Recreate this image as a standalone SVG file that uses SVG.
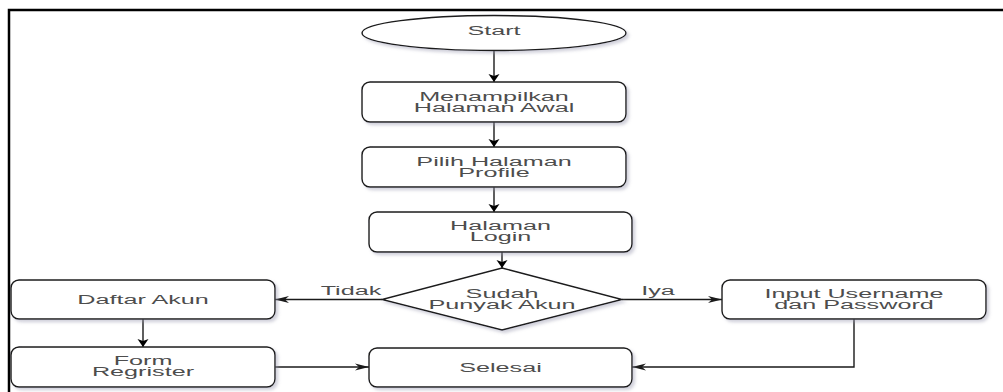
<svg xmlns="http://www.w3.org/2000/svg" width="1003" height="392" viewBox="0 0 1003 392">
  <style>
    .shape { fill: #ffffff; stroke: #1a1a1a; stroke-width: 1.4; filter: url(#shadow); }
    .label { font-family: "Liberation Sans", Arial, sans-serif; font-size: 12px; fill: #4d4d4d; text-anchor: middle; }
    .edge { fill: none; stroke: #1a1a1a; stroke-width: 1.4; }
    .frame { fill: none; stroke: #000000; stroke-width: 2.5; }
  </style>
  <defs>
    <filter id="shadow" x="-10%" y="-20%" width="125%" height="150%">
      <feDropShadow dx="2.5" dy="2.5" stdDeviation="1.6" flood-color="#9a9ab0" flood-opacity="0.45"/>
    </filter>
    <!-- classic notched arrowheads; horizontal ones are drawn longer than vertical ones -->
    <marker id="ah-h" markerUnits="userSpaceOnUse" viewBox="-14 -4 15 8" markerWidth="15" markerHeight="8" refX="0" refY="0" orient="auto" overflow="visible">
      <path d="M0,0 L-14,-3.6 L-10,0 L-14,3.6 Z" fill="#1a1a1a"/>
    </marker>
    <marker id="ah-v" markerUnits="userSpaceOnUse" viewBox="-9 -6 10 12" markerWidth="10" markerHeight="12" refX="0" refY="0" orient="auto" overflow="visible">
      <path d="M0,0 L-8,-5.5 L-6,0 L-8,5.5 Z" fill="#000000"/>
    </marker>
  </defs>

  <rect width="1003" height="392" fill="#ffffff"/>

  <!-- page frame -->
  <g id="frame">
    <path class="frame" d="M9,392 L9,10 L1003,10"/>
  </g>

  <!-- connectors -->
  <g id="connectors">
    <path class="edge" d="M494,50.5 L494,82" marker-end="url(#ah-v)"/>
    <path class="edge" d="M494,122 L494,147" marker-end="url(#ah-v)"/>
    <path class="edge" d="M494,187 L494,212" marker-end="url(#ah-v)"/>
    <path class="edge" d="M502,252 L502,268" marker-end="url(#ah-v)"/>
    <path class="edge" d="M382,299.5 L275,299.5" marker-end="url(#ah-h)"/>
    <path class="edge" d="M622,299.5 L722,299.5" marker-end="url(#ah-h)"/>
    <path class="edge" d="M143,319 L143,347" marker-end="url(#ah-v)"/>
    <path class="edge" d="M275,367 L369,367" marker-end="url(#ah-h)"/>
    <path class="edge" d="M854,319 L854,367 L632,367" marker-end="url(#ah-h)"/>
    <text class="label" transform="matrix(2.1 0 0 1 351 295)">Tidak</text>
    <text class="label" transform="matrix(2.1 0 0 1 658 295)">Iya</text>
  </g>

  <g id="start">
    <ellipse class="shape" cx="494" cy="33" rx="132" ry="17.5"/>
    <text class="label" transform="matrix(2.1 0 0 1 494 35)">Start</text>
  </g>

  <g id="halaman-awal">
    <rect class="shape" x="362" y="82" width="264" height="40" rx="8"/>
    <text class="label" transform="matrix(2.1 0 0 1 494 101)">Menampilkan</text>
    <text class="label" transform="matrix(2.1 0 0 1 494 112)">Halaman Awal</text>
  </g>

  <g id="pilih-profile">
    <rect class="shape" x="362" y="147" width="264" height="40" rx="8"/>
    <text class="label" transform="matrix(2.1 0 0 1 494 166)">Pilih Halaman</text>
    <text class="label" transform="matrix(2.1 0 0 1 494 177)">Profile</text>
  </g>

  <g id="halaman-login">
    <rect class="shape" x="369" y="212" width="263" height="40" rx="8"/>
    <text class="label" transform="matrix(2.1 0 0 1 500.5 230)">Halaman</text>
    <text class="label" transform="matrix(2.1 0 0 1 500.5 241)">Login</text>
  </g>

  <g id="cek-akun">
    <polygon class="shape" points="502,268 622,299.5 502,330 382,299.5"/>
    <text class="label" transform="matrix(2.1 0 0 1 502 298)">Sudah</text>
    <text class="label" transform="matrix(2.1 0 0 1 502 309)">Punyak Akun</text>
  </g>

  <g id="daftar-akun">
    <rect class="shape" x="11" y="280" width="264" height="39" rx="8"/>
    <text class="label" transform="matrix(2.1 0 0 1 143 303.5)">Daftar Akun</text>
  </g>

  <g id="form-register">
    <rect class="shape" x="11" y="347" width="264" height="40" rx="8"/>
    <text class="label" transform="matrix(2.1 0 0 1 143 364.5)">Form</text>
    <text class="label" transform="matrix(2.1 0 0 1 143 375.5)">Regrister</text>
  </g>

  <g id="input-login">
    <rect class="shape" x="722" y="280" width="264" height="39" rx="8"/>
    <text class="label" transform="matrix(2.1 0 0 1 854 297.5)">Input Username</text>
    <text class="label" transform="matrix(2.1 0 0 1 854 308.5)">dan Password</text>
  </g>

  <g id="selesai">
    <rect class="shape" x="369" y="348" width="263" height="39" rx="8"/>
    <text class="label" transform="matrix(2.1 0 0 1 500.5 371.5)">Selesai</text>
  </g>
</svg>
